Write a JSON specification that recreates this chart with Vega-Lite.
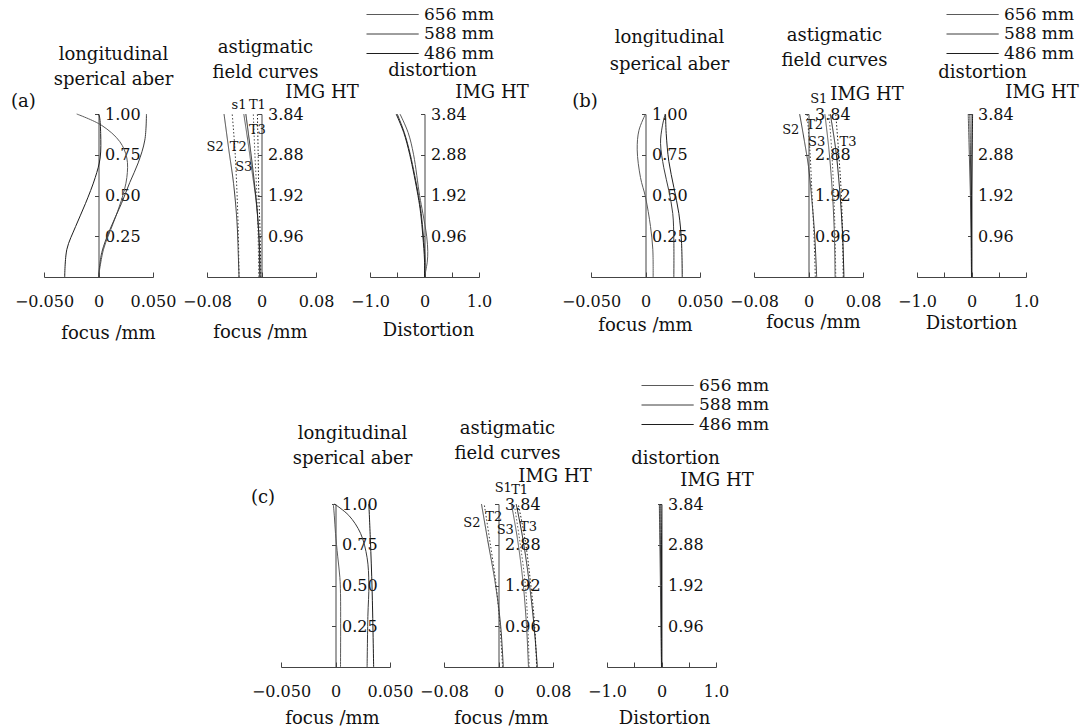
{
 "$schema": "https://vega.github.io/schema/vega-lite/v6.json",
 "background": "white",
 "padding": {"left": 10, "top": 6, "right": 5, "bottom": 5},
 "datasets": {
  "lsa": [
   {"p":"a","w":"656 mm","x":0,"y":0},{"p":"a","w":"656 mm","x":0.0046,"y":0.17},{"p":"a","w":"656 mm","x":0.0135,"y":0.33},{"p":"a","w":"656 mm","x":0.021,"y":0.47},{"p":"a","w":"656 mm","x":0.026,"y":0.61},{"p":"a","w":"656 mm","x":0.026,"y":0.73},{"p":"a","w":"656 mm","x":0.0196,"y":0.83},{"p":"a","w":"656 mm","x":0.003,"y":0.93},{"p":"a","w":"656 mm","x":-0.02,"y":1},
   {"p":"a","w":"588 mm","x":0,"y":0},{"p":"a","w":"588 mm","x":0.003,"y":0.15},{"p":"a","w":"588 mm","x":0.0104,"y":0.29},{"p":"a","w":"588 mm","x":0.021,"y":0.45},{"p":"a","w":"588 mm","x":0.0287,"y":0.58},{"p":"a","w":"588 mm","x":0.0364,"y":0.7},{"p":"a","w":"588 mm","x":0.0425,"y":0.84},{"p":"a","w":"588 mm","x":0.044,"y":1},
   {"p":"a","w":"486 mm","x":-0.031,"y":0},{"p":"a","w":"486 mm","x":-0.029,"y":0.17},{"p":"a","w":"486 mm","x":-0.021,"y":0.31},{"p":"a","w":"486 mm","x":-0.012,"y":0.45},{"p":"a","w":"486 mm","x":-0.003,"y":0.61},{"p":"a","w":"486 mm","x":0.0015,"y":0.73},{"p":"a","w":"486 mm","x":0.002,"y":0.88},{"p":"a","w":"486 mm","x":0.001,"y":0.98},{"p":"a","w":"486 mm","x":0,"y":1},
   {"p":"b","w":"656 mm","x":0.007,"y":0},{"p":"b","w":"656 mm","x":0.0067,"y":0.17},{"p":"b","w":"656 mm","x":0.0046,"y":0.31},{"p":"b","w":"656 mm","x":0,"y":0.49},{"p":"b","w":"656 mm","x":-0.0046,"y":0.61},{"p":"b","w":"656 mm","x":-0.0076,"y":0.78},{"p":"b","w":"656 mm","x":-0.006,"y":0.9},{"p":"b","w":"656 mm","x":0,"y":1},
   {"p":"b","w":"588 mm","x":0.026,"y":0},{"p":"b","w":"588 mm","x":0.026,"y":0.22},{"p":"b","w":"588 mm","x":0.025,"y":0.39},{"p":"b","w":"588 mm","x":0.0214,"y":0.53},{"p":"b","w":"588 mm","x":0.0168,"y":0.67},{"p":"b","w":"588 mm","x":0.0138,"y":0.82},{"p":"b","w":"588 mm","x":0.0153,"y":0.92},{"p":"b","w":"588 mm","x":0.018,"y":1},
   {"p":"b","w":"486 mm","x":0.0337,"y":0},{"p":"b","w":"486 mm","x":0.033,"y":0.22},{"p":"b","w":"486 mm","x":0.0306,"y":0.39},{"p":"b","w":"486 mm","x":0.026,"y":0.55},{"p":"b","w":"486 mm","x":0.0214,"y":0.71},{"p":"b","w":"486 mm","x":0.019,"y":0.88},{"p":"b","w":"486 mm","x":0.0184,"y":1},
   {"p":"c","w":"656 mm","x":0.0046,"y":0},{"p":"c","w":"656 mm","x":0.0046,"y":0.45},{"p":"c","w":"656 mm","x":0.004,"y":0.55},{"p":"c","w":"656 mm","x":0.002,"y":0.68},{"p":"c","w":"656 mm","x":0,"y":0.82},{"p":"c","w":"656 mm","x":-0.001,"y":0.92},{"p":"c","w":"656 mm","x":-0.002,"y":1},
   {"p":"c","w":"588 mm","x":0.029,"y":0},{"p":"c","w":"588 mm","x":0.0297,"y":0.31},{"p":"c","w":"588 mm","x":0.0306,"y":0.51},{"p":"c","w":"588 mm","x":0.029,"y":0.67},{"p":"c","w":"588 mm","x":0.023,"y":0.82},{"p":"c","w":"588 mm","x":0.0122,"y":0.93},{"p":"c","w":"588 mm","x":-0.001,"y":1},
   {"p":"c","w":"486 mm","x":0.035,"y":0},{"p":"c","w":"486 mm","x":0.0336,"y":0.47},{"p":"c","w":"486 mm","x":0.032,"y":0.78},{"p":"c","w":"486 mm","x":0.0306,"y":1}
  ],
  "fc": [
   {"p":"a","s":"S1","w":"656 mm","d":"solid","x":-0.026,"y":3.84},{"p":"a","s":"S1","w":"656 mm","d":"solid","x":-0.02,"y":3.2},{"p":"a","s":"S1","w":"656 mm","d":"solid","x":-0.014,"y":2.5},{"p":"a","s":"S1","w":"656 mm","d":"solid","x":-0.008,"y":1.8},{"p":"a","s":"S1","w":"656 mm","d":"solid","x":-0.004,"y":1},{"p":"a","s":"S1","w":"656 mm","d":"solid","x":-0.003,"y":0},
   {"p":"a","s":"T1","w":"656 mm","d":"dot","x":-0.012,"y":3.84},{"p":"a","s":"T1","w":"656 mm","d":"dot","x":-0.01,"y":3},{"p":"a","s":"T1","w":"656 mm","d":"dot","x":-0.007,"y":2},{"p":"a","s":"T1","w":"656 mm","d":"dot","x":-0.005,"y":1},{"p":"a","s":"T1","w":"656 mm","d":"dot","x":-0.004,"y":0},
   {"p":"a","s":"S2","w":"588 mm","d":"solid","x":-0.055,"y":3.84},{"p":"a","s":"S2","w":"588 mm","d":"solid","x":-0.048,"y":3},{"p":"a","s":"S2","w":"588 mm","d":"solid","x":-0.041,"y":2.2},{"p":"a","s":"S2","w":"588 mm","d":"solid","x":-0.036,"y":1.3},{"p":"a","s":"S2","w":"588 mm","d":"solid","x":-0.034,"y":0.5},{"p":"a","s":"S2","w":"588 mm","d":"solid","x":-0.033,"y":0},
   {"p":"a","s":"T2","w":"588 mm","d":"dot","x":-0.043,"y":3.84},{"p":"a","s":"T2","w":"588 mm","d":"dot","x":-0.039,"y":3},{"p":"a","s":"T2","w":"588 mm","d":"dot","x":-0.036,"y":2},{"p":"a","s":"T2","w":"588 mm","d":"dot","x":-0.034,"y":1},{"p":"a","s":"T2","w":"588 mm","d":"dot","x":-0.033,"y":0},
   {"p":"a","s":"S3","w":"486 mm","d":"solid","x":-0.023,"y":3.84},{"p":"a","s":"S3","w":"486 mm","d":"solid","x":-0.017,"y":3.1},{"p":"a","s":"S3","w":"486 mm","d":"solid","x":-0.011,"y":2.3},{"p":"a","s":"S3","w":"486 mm","d":"solid","x":-0.006,"y":1.5},{"p":"a","s":"S3","w":"486 mm","d":"solid","x":-0.003,"y":0.7},{"p":"a","s":"S3","w":"486 mm","d":"solid","x":-0.002,"y":0},
   {"p":"a","s":"T3","w":"486 mm","d":"dot","x":-0.006,"y":3.84},{"p":"a","s":"T3","w":"486 mm","d":"dot","x":-0.005,"y":3},{"p":"a","s":"T3","w":"486 mm","d":"dot","x":-0.004,"y":2},{"p":"a","s":"T3","w":"486 mm","d":"dot","x":-0.002,"y":1},{"p":"a","s":"T3","w":"486 mm","d":"dot","x":-0.001,"y":0},
   {"p":"b","s":"S1","w":"656 mm","d":"solid","x":0.024,"y":3.84},{"p":"b","s":"S1","w":"656 mm","d":"solid","x":0.03,"y":3},{"p":"b","s":"S1","w":"656 mm","d":"solid","x":0.035,"y":2},{"p":"b","s":"S1","w":"656 mm","d":"solid","x":0.038,"y":1},{"p":"b","s":"S1","w":"656 mm","d":"solid","x":0.039,"y":0},
   {"p":"b","s":"T1","w":"656 mm","d":"dot","x":0.03,"y":3.84},{"p":"b","s":"T1","w":"656 mm","d":"dot","x":0.034,"y":3},{"p":"b","s":"T1","w":"656 mm","d":"dot","x":0.037,"y":2},{"p":"b","s":"T1","w":"656 mm","d":"dot","x":0.039,"y":1},{"p":"b","s":"T1","w":"656 mm","d":"dot","x":0.04,"y":0},
   {"p":"b","s":"S2","w":"588 mm","d":"solid","x":-0.013,"y":3.84},{"p":"b","s":"S2","w":"588 mm","d":"solid","x":-0.006,"y":3.2},{"p":"b","s":"S2","w":"588 mm","d":"solid","x":0,"y":2.6},{"p":"b","s":"S2","w":"588 mm","d":"solid","x":0.005,"y":1.8},{"p":"b","s":"S2","w":"588 mm","d":"solid","x":0.009,"y":1},{"p":"b","s":"S2","w":"588 mm","d":"solid","x":0.012,"y":0},
   {"p":"b","s":"T2","w":"588 mm","d":"dot","x":-0.002,"y":3.84},{"p":"b","s":"T2","w":"588 mm","d":"dot","x":0.002,"y":3},{"p":"b","s":"T2","w":"588 mm","d":"dot","x":0.005,"y":2},{"p":"b","s":"T2","w":"588 mm","d":"dot","x":0.008,"y":1},{"p":"b","s":"T2","w":"588 mm","d":"dot","x":0.01,"y":0},
   {"p":"b","s":"S3","w":"486 mm","d":"solid","x":0.032,"y":3.84},{"p":"b","s":"S3","w":"486 mm","d":"solid","x":0.04,"y":3},{"p":"b","s":"S3","w":"486 mm","d":"solid","x":0.046,"y":2},{"p":"b","s":"S3","w":"486 mm","d":"solid","x":0.05,"y":1},{"p":"b","s":"S3","w":"486 mm","d":"solid","x":0.052,"y":0},
   {"p":"b","s":"T3","w":"486 mm","d":"dot","x":0.04,"y":3.84},{"p":"b","s":"T3","w":"486 mm","d":"dot","x":0.044,"y":3},{"p":"b","s":"T3","w":"486 mm","d":"dot","x":0.048,"y":2},{"p":"b","s":"T3","w":"486 mm","d":"dot","x":0.05,"y":1},{"p":"b","s":"T3","w":"486 mm","d":"dot","x":0.051,"y":0},
   {"p":"c","s":"S1","w":"656 mm","d":"solid","x":0.019,"y":3.84},{"p":"c","s":"S1","w":"656 mm","d":"solid","x":0.028,"y":3},{"p":"c","s":"S1","w":"656 mm","d":"solid","x":0.036,"y":2},{"p":"c","s":"S1","w":"656 mm","d":"solid","x":0.041,"y":1},{"p":"c","s":"S1","w":"656 mm","d":"solid","x":0.044,"y":0},
   {"p":"c","s":"T1","w":"656 mm","d":"dot","x":0.023,"y":3.84},{"p":"c","s":"T1","w":"656 mm","d":"dot","x":0.031,"y":3},{"p":"c","s":"T1","w":"656 mm","d":"dot","x":0.039,"y":2},{"p":"c","s":"T1","w":"656 mm","d":"dot","x":0.043,"y":1},{"p":"c","s":"T1","w":"656 mm","d":"dot","x":0.045,"y":0},
   {"p":"c","s":"S2","w":"588 mm","d":"solid","x":-0.025,"y":3.84},{"p":"c","s":"S2","w":"588 mm","d":"solid","x":-0.016,"y":3},{"p":"c","s":"S2","w":"588 mm","d":"solid","x":-0.005,"y":2},{"p":"c","s":"S2","w":"588 mm","d":"solid","x":0.003,"y":1},{"p":"c","s":"S2","w":"588 mm","d":"solid","x":0.007,"y":0},
   {"p":"c","s":"T2","w":"588 mm","d":"dot","x":-0.021,"y":3.84},{"p":"c","s":"T2","w":"588 mm","d":"dot","x":-0.013,"y":3},{"p":"c","s":"T2","w":"588 mm","d":"dot","x":-0.004,"y":2},{"p":"c","s":"T2","w":"588 mm","d":"dot","x":0.002,"y":1},{"p":"c","s":"T2","w":"588 mm","d":"dot","x":0.006,"y":0},
   {"p":"c","s":"S3","w":"486 mm","d":"solid","x":0.026,"y":3.84},{"p":"c","s":"S3","w":"486 mm","d":"solid","x":0.036,"y":3},{"p":"c","s":"S3","w":"486 mm","d":"solid","x":0.045,"y":2},{"p":"c","s":"S3","w":"486 mm","d":"solid","x":0.052,"y":1},{"p":"c","s":"S3","w":"486 mm","d":"solid","x":0.057,"y":0},
   {"p":"c","s":"T3","w":"486 mm","d":"dot","x":0.029,"y":3.84},{"p":"c","s":"T3","w":"486 mm","d":"dot","x":0.039,"y":3},{"p":"c","s":"T3","w":"486 mm","d":"dot","x":0.047,"y":2},{"p":"c","s":"T3","w":"486 mm","d":"dot","x":0.053,"y":1},{"p":"c","s":"T3","w":"486 mm","d":"dot","x":0.056,"y":0}
  ],
  "dist": [
   {"p":"a","w":"656 mm","x":0,"y":0},{"p":"a","w":"656 mm","x":0.05,"y":0.35},{"p":"a","w":"656 mm","x":0.06,"y":0.6},{"p":"a","w":"656 mm","x":0.04,"y":0.96},{"p":"a","w":"656 mm","x":-0.03,"y":1.5},{"p":"a","w":"656 mm","x":-0.09,"y":1.92},{"p":"a","w":"656 mm","x":-0.2,"y":2.88},{"p":"a","w":"656 mm","x":-0.3,"y":3.4},{"p":"a","w":"656 mm","x":-0.45,"y":3.84},
   {"p":"a","w":"588 mm","x":0,"y":0},{"p":"a","w":"588 mm","x":0.01,"y":0.4},{"p":"a","w":"588 mm","x":-0.02,"y":0.96},{"p":"a","w":"588 mm","x":-0.06,"y":1.5},{"p":"a","w":"588 mm","x":-0.11,"y":1.92},{"p":"a","w":"588 mm","x":-0.26,"y":2.88},{"p":"a","w":"588 mm","x":-0.37,"y":3.4},{"p":"a","w":"588 mm","x":-0.5,"y":3.84},
   {"p":"a","w":"486 mm","x":0,"y":0},{"p":"a","w":"486 mm","x":0,"y":0.4},{"p":"a","w":"486 mm","x":-0.03,"y":0.96},{"p":"a","w":"486 mm","x":-0.07,"y":1.5},{"p":"a","w":"486 mm","x":-0.12,"y":1.92},{"p":"a","w":"486 mm","x":-0.27,"y":2.88},{"p":"a","w":"486 mm","x":-0.38,"y":3.4},{"p":"a","w":"486 mm","x":-0.52,"y":3.84},
   {"p":"b","w":"656 mm","x":0,"y":0},{"p":"b","w":"656 mm","x":-0.01,"y":0.96},{"p":"b","w":"656 mm","x":-0.02,"y":1.92},{"p":"b","w":"656 mm","x":-0.04,"y":2.88},{"p":"b","w":"656 mm","x":-0.06,"y":3.84},
   {"p":"b","w":"588 mm","x":0,"y":0},{"p":"b","w":"588 mm","x":0,"y":0.96},{"p":"b","w":"588 mm","x":-0.01,"y":1.92},{"p":"b","w":"588 mm","x":-0.02,"y":2.88},{"p":"b","w":"588 mm","x":-0.03,"y":3.84},
   {"p":"b","w":"486 mm","x":0,"y":0},{"p":"b","w":"486 mm","x":0,"y":0.96},{"p":"b","w":"486 mm","x":0,"y":1.92},{"p":"b","w":"486 mm","x":0.01,"y":2.88},{"p":"b","w":"486 mm","x":0.02,"y":3.84},
   {"p":"c","w":"656 mm","x":0,"y":0},{"p":"c","w":"656 mm","x":-0.01,"y":0.96},{"p":"c","w":"656 mm","x":-0.02,"y":1.92},{"p":"c","w":"656 mm","x":-0.03,"y":2.88},{"p":"c","w":"656 mm","x":-0.04,"y":3.84},
   {"p":"c","w":"588 mm","x":0,"y":0},{"p":"c","w":"588 mm","x":-0.005,"y":0.96},{"p":"c","w":"588 mm","x":-0.01,"y":1.92},{"p":"c","w":"588 mm","x":-0.02,"y":2.88},{"p":"c","w":"588 mm","x":-0.03,"y":3.84},
   {"p":"c","w":"486 mm","x":0,"y":0},{"p":"c","w":"486 mm","x":0,"y":0.96},{"p":"c","w":"486 mm","x":0,"y":1.92},{"p":"c","w":"486 mm","x":0,"y":2.88},{"p":"c","w":"486 mm","x":-0.01,"y":3.84}
  ],
  "lbl": [
   {"p":"a","t":"s1","x":-0.033,"y":4.05},{"p":"a","t":"T1","x":-0.006,"y":4.05},{"p":"a","t":"T3","x":-0.006,"y":3.46},{"p":"a","t":"S2","x":-0.068,"y":3.06},{"p":"a","t":"T2","x":-0.034,"y":3.06},{"p":"a","t":"S3","x":-0.026,"y":2.59},
   {"p":"b","t":"S1","x":0.015,"y":4.19},{"p":"b","t":"S2","x":-0.026,"y":3.46},{"p":"b","t":"T2","x":0.009,"y":3.58},{"p":"b","t":"S3","x":0.012,"y":3.18},{"p":"b","t":"T3","x":0.058,"y":3.18},
   {"p":"c","t":"S1","x":0.007,"y":4.22},{"p":"c","t":"T1","x":0.031,"y":4.17},{"p":"c","t":"S2","x":-0.039,"y":3.39},{"p":"c","t":"T2","x":-0.007,"y":3.53},{"p":"c","t":"S3","x":0.01,"y":3.22},{"p":"c","t":"T3","x":0.044,"y":3.29}
  ]
 },
 "bounds": "flush",
 "spacing": 390,
 "resolve": {"legend": {"color": "independent"}},
 "vconcat": [
  {"bounds": "flush", "spacing": 54, "resolve": {"legend": {"color": "independent"}},
   "hconcat": [
  {"width":109,"height":163,"title":{"text":["longitudinal","sperical aber"],"dx":15,"dy":0},
   "layer":[
    {"data":{"name":"lsa"},"transform":[{"filter":"datum.p=='a'"}],"mark":{"type":"line","strokeWidth":1,"interpolate":"catmull-rom"},
     "encoding":{
      "x":{"field":"x","type":"quantitative","scale":{"domain":[-0.05,0.05],"nice":false},"axis":{"values":[-0.05,-0.025,0,0.025,0.05],"labelExpr":"datum.value==0?'0':(abs(datum.value)<0.04?'':format(datum.value,'.3f'))","title":"focus /mm","titleX":64,"titleY":56}},
      "y":{"field":"y","type":"quantitative","scale":{"domain":[0,1],"nice":false},"axis":{"orient":"right","offset":-54.5,"values":[0.25,0.5,0.75,1],"format":".2f","title":null}},
      "color":{"field":"w","type":"nominal","scale":{"domain":["656 mm","588 mm","486 mm"],"range":["#5a5a5a","#3c3c3c","#1e1e1e"]},"legend":null},
      "order":{"field":"y","type":"quantitative"}}},
    {"data":{"values":[{}]},"mark":{"type":"text","text":"(a)","fontSize":18},"encoding":{"x":{"datum":-0.069},"y":{"datum":1.074}}}
   ]},
  {"width":109,"height":163,"title":{"text":["astigmatic","field curves"],"dx":4,"dy":3},
   "layer":[
    {"data":{"name":"fc"},"transform":[{"filter":"datum.p=='a'"}],"mark":{"type":"line","strokeWidth":1,"interpolate":"catmull-rom"},
     "encoding":{
      "x":{"field":"x","type":"quantitative","scale":{"domain":[-0.08,0.08],"nice":false},"axis":{"values":[-0.08,-0.04,0,0.04,0.08],"labelExpr":"datum.value==0?'0':(abs(datum.value)<0.06?'':format(datum.value,'.2f'))","title":"focus /mm","titleX":53,"titleY":55}},
      "y":{"field":"y","type":"quantitative","scale":{"domain":[0,3.84],"nice":false},"axis":{"orient":"right","offset":-54.5,"values":[0.96,1.92,2.88,3.84],"format":".2f","title":"IMG HT","titleX":60,"titleY":-22}},
      "color":{"field":"w","type":"nominal","scale":{"domain":["656 mm","588 mm","486 mm"],"range":["#5a5a5a","#3c3c3c","#1e1e1e"]},"legend":null},
      "strokeDash":{"field":"d","type":"nominal","scale":{"domain":["solid","dot"],"range":[[1,0],[1.5,2]]},"legend":null},
      "detail":{"field":"s"},
      "order":{"field":"y","type":"quantitative"}}},
    {"data":{"name":"lbl"},"transform":[{"filter":"datum.p=='a'"}],"mark":{"type":"text","fontSize":13},"encoding":{"x":{"field":"x","type":"quantitative"},"y":{"field":"y","type":"quantitative"},"text":{"field":"t"}}}
   ]},
  {"width":109,"height":163,"title":{"text":"distortion","dx":8,"dy":78},
   "layer":[
    {"data":{"name":"dist"},"transform":[{"filter":"datum.p=='a'"}],"mark":{"type":"line","strokeWidth":1,"interpolate":"catmull-rom"},
     "encoding":{
      "x":{"field":"x","type":"quantitative","scale":{"domain":[-1,1],"nice":false},"axis":{"values":[-1,-0.5,0,0.5,1],"labelExpr":"datum.value==0?'0':(abs(datum.value)<0.9?'':format(datum.value,'.1f'))","title":"Distortion","titleX":58,"titleY":53}},
      "y":{"field":"y","type":"quantitative","scale":{"domain":[0,3.84],"nice":false},"axis":{"orient":"right","offset":-54.5,"values":[0.96,1.92,2.88,3.84],"format":".2f","title":"IMG HT","titleX":67,"titleY":-22}},
      "color":{"field":"w","type":"nominal","scale":{"domain":["656 mm","588 mm","486 mm"],"range":["#5a5a5a","#3c3c3c","#1e1e1e"]},"legend":{"orient":"none","legendX":39,"legendY":-108}},
      "order":{"field":"y","type":"quantitative"}}}
   ]},
  {"width":4,"height":163,"data":{"values":[]},"mark":"point"},
  {"width":109,"height":163,"title":{"text":["longitudinal","sperical aber"],"dx":24,"dy":-15,"lineHeight":27},
   "layer":[
    {"data":{"name":"lsa"},"transform":[{"filter":"datum.p=='b'"}],"mark":{"type":"line","strokeWidth":1,"interpolate":"catmull-rom"},
     "encoding":{
      "x":{"field":"x","type":"quantitative","scale":{"domain":[-0.05,0.05],"nice":false},"axis":{"values":[-0.05,-0.025,0,0.025,0.05],"labelExpr":"datum.value==0?'0':(abs(datum.value)<0.04?'':format(datum.value,'.3f'))","title":"focus /mm","titleX":54,"titleY":48}},
      "y":{"field":"y","type":"quantitative","scale":{"domain":[0,1],"nice":false},"axis":{"orient":"right","offset":-54.5,"values":[0.25,0.5,0.75,1],"format":".2f","title":null}},
      "color":{"field":"w","type":"nominal","scale":{"domain":["656 mm","588 mm","486 mm"],"range":["#5a5a5a","#3c3c3c","#1e1e1e"]},"legend":null},
      "order":{"field":"y","type":"quantitative"}}},
    {"data":{"values":[{}]},"mark":{"type":"text","text":"(b)","fontSize":18},"encoding":{"x":{"datum":-0.0555},"y":{"datum":1.074}}}
   ]},
  {"width":109,"height":163,"title":{"text":["astigmatic","field curves"],"dx":26,"dy":-11},
   "layer":[
    {"data":{"name":"fc"},"transform":[{"filter":"datum.p=='b'"}],"mark":{"type":"line","strokeWidth":1,"interpolate":"catmull-rom"},
     "encoding":{
      "x":{"field":"x","type":"quantitative","scale":{"domain":[-0.08,0.08],"nice":false},"axis":{"values":[-0.08,-0.04,0,0.04,0.08],"labelExpr":"datum.value==0?'0':(abs(datum.value)<0.06?'':format(datum.value,'.2f'))","title":"focus /mm","titleX":59,"titleY":45}},
      "y":{"field":"y","type":"quantitative","scale":{"domain":[0,3.84],"nice":false},"axis":{"orient":"right","offset":-54.5,"values":[0.96,1.92,2.88,3.84],"format":".2f","title":"IMG HT","titleX":58,"titleY":-20}},
      "color":{"field":"w","type":"nominal","scale":{"domain":["656 mm","588 mm","486 mm"],"range":["#5a5a5a","#3c3c3c","#1e1e1e"]},"legend":null},
      "strokeDash":{"field":"d","type":"nominal","scale":{"domain":["solid","dot"],"range":[[1,0],[1.5,2]]},"legend":null},
      "detail":{"field":"s"},
      "order":{"field":"y","type":"quantitative"}}},
    {"data":{"name":"lbl"},"transform":[{"filter":"datum.p=='b'"}],"mark":{"type":"text","fontSize":13},"encoding":{"x":{"field":"x","type":"quantitative"},"y":{"field":"y","type":"quantitative"},"text":{"field":"t"}}}
   ]},
  {"width":109,"height":163,"title":{"text":"distortion","dx":11,"dy":80},
   "layer":[
    {"data":{"name":"dist"},"transform":[{"filter":"datum.p=='b'"}],"mark":{"type":"line","strokeWidth":1,"interpolate":"catmull-rom"},
     "encoding":{
      "x":{"field":"x","type":"quantitative","scale":{"domain":[-1,1],"nice":false},"axis":{"values":[-1,-0.5,0,0.5,1],"labelExpr":"datum.value==0?'0':(abs(datum.value)<0.9?'':format(datum.value,'.1f'))","title":"Distortion","titleX":54,"titleY":46}},
      "y":{"field":"y","type":"quantitative","scale":{"domain":[0,3.84],"nice":false},"axis":{"orient":"right","offset":-54.5,"values":[0.96,1.92,2.88,3.84],"format":".2f","title":"IMG HT","titleX":70,"titleY":-22}},
      "color":{"field":"w","type":"nominal","scale":{"domain":["656 mm","588 mm","486 mm"],"range":["#5a5a5a","#3c3c3c","#1e1e1e"]},"legend":{"orient":"none","legendX":72,"legendY":-108}},
      "order":{"field":"y","type":"quantitative"}}}
   ]}
   ]},
  {"bounds": "flush", "spacing": 54, "resolve": {"legend": {"color": "independent"}},
   "hconcat": [
  {"width":183,"height":163,"data":{"values":[]},"mark":"point"},
  {"width":109,"height":163,"title":{"text":["longitudinal","sperical aber"],"dx":17,"dy":-17},
   "layer":[
    {"data":{"name":"lsa"},"transform":[{"filter":"datum.p=='c'"}],"mark":{"type":"line","strokeWidth":1,"interpolate":"catmull-rom"},
     "encoding":{
      "x":{"field":"x","type":"quantitative","scale":{"domain":[-0.05,0.05],"nice":false},"axis":{"values":[-0.05,-0.025,0,0.025,0.05],"labelExpr":"datum.value==0?'0':(abs(datum.value)<0.04?'':format(datum.value,'.3f'))","title":"focus /mm","titleX":51,"titleY":51}},
      "y":{"field":"y","type":"quantitative","scale":{"domain":[0,1],"nice":false},"axis":{"orient":"right","offset":-54.5,"values":[0.25,0.5,0.75,1],"format":".2f","title":null}},
      "color":{"field":"w","type":"nominal","scale":{"domain":["656 mm","588 mm","486 mm"],"range":["#5a5a5a","#3c3c3c","#1e1e1e"]},"legend":null},
      "order":{"field":"y","type":"quantitative"}}},
    {"data":{"values":[{}]},"mark":{"type":"text","text":"(c)","fontSize":18},"encoding":{"x":{"datum":-0.0665},"y":{"datum":1.037}}}
   ]},
  {"width":109,"height":163,"title":{"text":["astigmatic","field curves"],"dx":9,"dy":0},
   "layer":[
    {"data":{"name":"fc"},"transform":[{"filter":"datum.p=='c'"}],"mark":{"type":"line","strokeWidth":1,"interpolate":"catmull-rom"},
     "encoding":{
      "x":{"field":"x","type":"quantitative","scale":{"domain":[-0.08,0.08],"nice":false},"axis":{"values":[-0.08,-0.04,0,0.04,0.08],"labelExpr":"datum.value==0?'0':(abs(datum.value)<0.06?'':format(datum.value,'.2f'))","title":"focus /mm","titleX":57,"titleY":51}},
      "y":{"field":"y","type":"quantitative","scale":{"domain":[0,3.84],"nice":false},"axis":{"orient":"right","offset":-54.5,"values":[0.96,1.92,2.88,3.84],"format":".2f","title":"IMG HT","titleX":56,"titleY":-28}},
      "color":{"field":"w","type":"nominal","scale":{"domain":["656 mm","588 mm","486 mm"],"range":["#5a5a5a","#3c3c3c","#1e1e1e"]},"legend":null},
      "strokeDash":{"field":"d","type":"nominal","scale":{"domain":["solid","dot"],"range":[[1,0],[1.5,2]]},"legend":null},
      "detail":{"field":"s"},
      "order":{"field":"y","type":"quantitative"}}},
    {"data":{"name":"lbl"},"transform":[{"filter":"datum.p=='c'"}],"mark":{"type":"text","fontSize":13},"encoding":{"x":{"field":"x","type":"quantitative"},"y":{"field":"y","type":"quantitative"},"text":{"field":"t"}}}
   ]},
  {"width":109,"height":163,"title":{"text":"distortion","dx":14,"dy":95},
   "layer":[
    {"data":{"name":"dist"},"transform":[{"filter":"datum.p=='c'"}],"mark":{"type":"line","strokeWidth":1,"interpolate":"catmull-rom"},
     "encoding":{
      "x":{"field":"x","type":"quantitative","scale":{"domain":[-1,1],"nice":false},"axis":{"values":[-1,-0.5,0,0.5,1],"labelExpr":"datum.value==0?'0':(abs(datum.value)<0.9?'':format(datum.value,'.1f'))","title":"Distortion","titleX":57,"titleY":51}},
      "y":{"field":"y","type":"quantitative","scale":{"domain":[0,3.84],"nice":false},"axis":{"orient":"right","offset":-54.5,"values":[0.96,1.92,2.88,3.84],"format":".2f","title":"IMG HT","titleX":55,"titleY":-24}},
      "color":{"field":"w","type":"nominal","scale":{"domain":["656 mm","588 mm","486 mm"],"range":["#5a5a5a","#3c3c3c","#1e1e1e"]},"legend":{"orient":"none","legendX":77,"legendY":-127}},
      "order":{"field":"y","type":"quantitative"}}}
   ]}
   ]}
 ],
 "config": {
  "view": {"stroke": null},
  "font": "DejaVu Serif",
  "axis": {"grid": false, "domainColor": "#444", "tickColor": "#444", "labelFont": "DejaVu Serif", "labelFontSize": 16, "labelColor": "#111", "titleFont": "DejaVu Serif", "titleFontSize": 18, "titleFontWeight": "normal", "titleColor": "#111", "labelFlush": false, "labelOverlap": false, "labelBound": false, "titleAngle": 0, "titleAlign": "center", "titleBaseline": "middle"},
  "axisX": {"tickSize": -5, "labelPadding": 21},
  "axisY": {"tickSize": -4, "labelPadding": 10, "labelAlign": "left", "labelBaseline": "middle"},
  "title": {"font": "DejaVu Serif", "fontSize": 18, "fontWeight": "normal", "color": "#111", "lineHeight": 25, "frame": "group", "offset": 4},
  "legend": {"title": null, "symbolType": "M-8.5,0H0.2", "symbolSize": 144, "symbolStrokeWidth": 1, "labelFont": "DejaVu Serif", "labelFontSize": 17, "labelColor": "#111", "labelOffset": -2, "rowPadding": 1.5, "padding": 0},
  "text": {"font": "DejaVu Serif", "color": "#111"}
 }
}
